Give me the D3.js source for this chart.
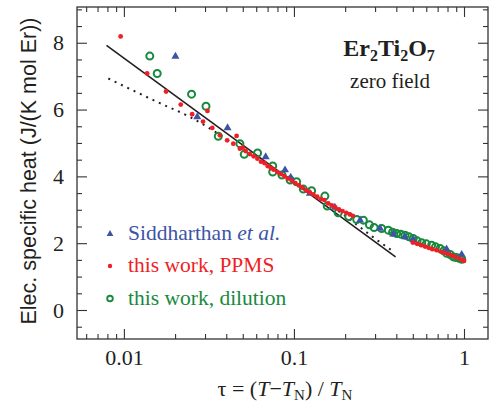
<!DOCTYPE html>
<html><head><meta charset="utf-8">
<script src="https://cdn.jsdelivr.net/npm/d3@7"></script>
<style>
body{margin:0;background:#fff;}
svg{display:block;}
</style></head>
<body>
<svg id="chart" width="490" height="405"></svg>
<script>
// ---- data ----
const blueTau = [0.0201, 0.027, 0.0407, 0.0682, 0.0886, 0.0957, 0.124, 0.174, 0.245, 0.321, 0.384, 0.45, 0.503, 0.79, 0.969];
const blueC   = [7.59, 5.78, 5.45, 4.58, 4.19, 3.97, 3.49, 3.07, 2.69, 2.44, 2.27, 2.19, 2.11, 1.82, 1.66];

const redTau = [0.00957, 0.0137, 0.0177, 0.0216, 0.0252, 0.0292, 0.031, 0.0331, 0.0367, 0.0405, 0.044, 0.046, 0.0481,
  0.050, 0.052, 0.055, 0.058, 0.061, 0.064, 0.067, 0.070, 0.073, 0.076, 0.080, 0.084, 0.088, 0.092, 0.097, 0.102,
  0.107, 0.112, 0.118, 0.124, 0.130, 0.137, 0.144, 0.151, 0.159, 0.167, 0.175, 0.184, 0.193, 0.203, 0.213, 0.222,
  0.50, 0.53, 0.56, 0.59, 0.62, 0.65, 0.69, 0.73, 0.77, 0.81, 0.85, 0.89, 0.94, 0.98, 1.00];
const redC = [8.19, 7.08, 6.54, 6.15, 5.86, 5.64, 5.96, 5.45, 5.23, 5.08, 4.98, 5.21, 4.83,
  4.86, 4.76, 4.67, 4.60, 4.53, 4.44, 4.40, 4.31, 4.25, 4.20, 4.13, 4.07, 4.00, 3.93, 3.87, 3.80,
  3.73, 3.66, 3.58, 3.52, 3.46, 3.39, 3.32, 3.29, 3.19, 3.13, 3.07, 3.01, 2.96, 2.91, 2.86, 2.82,
  2.02, 1.98, 1.94, 1.90, 1.86, 1.82, 1.79, 1.75, 1.71, 1.67, 1.63, 1.59, 1.54, 1.50, 1.47];

const greenTau = [0.0142, 0.0157, 0.025, 0.0304, 0.0359, 0.0481, 0.051, 0.0611, 0.075, 0.075, 0.085, 0.095, 0.1037,
  0.1135, 0.127, 0.152, 0.157, 0.182, 0.21, 0.234, 0.256, 0.278, 0.296, 0.328, 0.359, 0.38, 0.402, 0.425, 0.45,
  0.475, 0.503, 0.53, 0.564, 0.60, 0.645, 0.68, 0.723, 0.76, 0.791, 0.83, 0.865, 0.90, 0.938, 0.97];
const greenC = [7.60, 7.08, 6.46, 6.10, 5.20, 4.98, 4.66, 4.70, 4.31, 4.13, 4.04, 3.89, 3.84,
  3.62, 3.57, 3.41, 3.11, 2.91, 2.80, 2.71, 2.69, 2.55, 2.47, 2.44, 2.39, 2.33, 2.29, 2.27, 2.24,
  2.19, 2.14, 2.07, 2.01, 1.98, 1.94, 1.89, 1.84, 1.77, 1.70, 1.66, 1.59, 1.57, 1.55, 1.52];

const solidTau = [0.0079, 0.396];
const solidC   = [7.92, 1.59];

const dottedTau = [0.0081, 0.0163, 0.0244, 0.0321, 0.05, 0.08, 0.12, 0.205, 0.292, 0.382];
const dottedC   = [6.93, 6.19, 5.78, 5.43, 4.79, 4.16, 3.58, 2.78, 2.18, 1.76];

const xMajorTicks = [0.01, 0.1, 1];
const xTickLabels = ["0.01", "0.1", "1"];
const yMajorTicks = [0, 2, 4, 6, 8];
const yTickLabels = ["0", "2", "4", "6", "8"];

const legendLabels = ["Siddharthan", "this work, PPMS", "this work, dilution"];

// ---- layout ----
const BLUE = "#3d54a6", RED = "#ee1f26", GREEN = "#178a3e", INK = "#231f20";
const L = 77, R = 488, T = 7, B = 339;
const svg = d3.select("#chart");
const serif = "'Liberation Serif', 'Times New Roman', serif";

const x = d3.scaleLog().domain([0.0053, 1.384]).range([L, R]);
const y = d3.scaleLinear().domain([-0.868, 9.07]).range([B, T]);

const xMinor = [];
[0.001, 0.01, 0.1, 1].forEach(d => { for (let k = 2; k <= 9; k++) { const v = d * k; if (v > 0.0053 && v < 1.384) xMinor.push(v); } });
const yMinor = d3.range(-0.5, 9.01, 0.5).filter(v => !yMajorTicks.includes(v));

function styleAxis(g) {
  g.select(".domain").remove();
  g.selectAll(".tick line").attr("stroke", "#333").attr("stroke-width", 1.1);
  g.selectAll("text").attr("font-family", serif).attr("font-size", 22).attr("fill", INK);
}

// major + minor ticks, all inward
svg.append("g").attr("transform", `translate(0,${B})`)
  .call(d3.axisBottom(x).tickValues(xMajorTicks).tickSizeInner(-10).tickSizeOuter(0).tickPadding(10)
    .tickFormat((d, i) => xTickLabels[i])).call(styleAxis);
svg.append("g").attr("transform", `translate(0,${B})`)
  .call(d3.axisBottom(x).tickValues(xMinor).tickSizeInner(-5).tickSizeOuter(0).tickFormat("")).call(styleAxis);
svg.append("g").attr("transform", `translate(0,${T})`)
  .call(d3.axisTop(x).tickValues(xMajorTicks).tickSizeInner(-10).tickSizeOuter(0).tickFormat("")).call(styleAxis);
svg.append("g").attr("transform", `translate(0,${T})`)
  .call(d3.axisTop(x).tickValues(xMinor).tickSizeInner(-5).tickSizeOuter(0).tickFormat("")).call(styleAxis);

svg.append("g").attr("transform", `translate(${L},0)`)
  .call(d3.axisLeft(y).tickValues(yMajorTicks).tickSizeInner(-10).tickSizeOuter(0).tickPadding(13)
    .tickFormat((d, i) => yTickLabels[i])).call(styleAxis);
svg.append("g").attr("transform", `translate(${L},0)`)
  .call(d3.axisLeft(y).tickValues(yMinor).tickSizeInner(-5).tickSizeOuter(0).tickFormat("")).call(styleAxis);
svg.append("g").attr("transform", `translate(${R},0)`)
  .call(d3.axisRight(y).tickValues(yMajorTicks).tickSizeInner(-10).tickSizeOuter(0).tickFormat("")).call(styleAxis);
svg.append("g").attr("transform", `translate(${R},0)`)
  .call(d3.axisRight(y).tickValues(yMinor).tickSizeInner(-5).tickSizeOuter(0).tickFormat("")).call(styleAxis);

svg.append("rect").attr("x", L).attr("y", T).attr("width", R - L).attr("height", B - T)
  .attr("fill", "none").attr("stroke", "#333").attr("stroke-width", 1.3);

// lines
const line = d3.line().x(d => x(d[0])).y(d => y(d[1]));
svg.append("path").datum(solidTau.map((t, i) => [t, solidC[i]]))
  .attr("d", line).attr("fill", "none").attr("stroke", INK).attr("stroke-width", 1.6);
svg.append("path").datum(dottedTau.map((t, i) => [t, dottedC[i]]))
  .attr("d", line.curve(d3.curveMonotoneX)).attr("fill", "none").attr("stroke", INK)
  .attr("stroke-width", 2).attr("stroke-dasharray", "2,5");

// points
const gG = svg.append("g");
gG.selectAll("circle").data(greenTau.map((t, i) => [t, greenC[i]])).join("circle")
  .attr("cx", d => x(d[0])).attr("cy", d => y(d[1])).attr("r", 3.5)
  .attr("fill", "none").attr("stroke", GREEN).attr("stroke-width", 2);

const tri = d3.symbol().type(d3.symbolTriangle).size(28);
const gB = svg.append("g");
gB.selectAll("path").data(blueTau.map((t, i) => [t, blueC[i]])).join("path")
  .attr("d", tri).attr("transform", d => `translate(${x(d[0])},${y(d[1])})`).attr("fill", BLUE);

const gR = svg.append("g");
gR.selectAll("circle").data(redTau.map((t, i) => [t, redC[i]])).join("circle")
  .attr("cx", d => x(d[0])).attr("cy", d => y(d[1])).attr("r", 2.4).attr("fill", RED);

// legend
const lg = svg.append("g");
lg.append("path").attr("d", d3.symbol().type(d3.symbolTriangle).size(20)).attr("transform", "translate(110,234)").attr("fill", BLUE);
lg.append("circle").attr("cx", 110).attr("cy", 266).attr("r", 2.2).attr("fill", RED);
lg.append("circle").attr("cx", 110).attr("cy", 298.5).attr("r", 2.8).attr("fill", "none").attr("stroke", GREEN).attr("stroke-width", 1.9);
const LFS = 21.5;
const t1 = lg.append("text").attr("x", 128).attr("y", 240).attr("font-family", serif).attr("font-size", LFS).attr("fill", BLUE);
t1.append("tspan").text(legendLabels[0] + " ");
t1.append("tspan").attr("font-style", "italic").text("et al.");
lg.append("text").attr("x", 128).attr("y", 272).attr("font-family", serif).attr("font-size", LFS).attr("fill", RED).text(legendLabels[1]);
lg.append("text").attr("x", 128).attr("y", 305).attr("font-family", serif).attr("font-size", LFS).attr("fill", GREEN).text(legendLabels[2]);

// title
const tt = svg.append("text").attr("x", 389).attr("y", 56).attr("text-anchor", "middle")
  .attr("font-family", serif).attr("font-size", 24).attr("font-weight", "bold").attr("fill", INK);
tt.append("tspan").text("Er");
tt.append("tspan").attr("font-size", 16).attr("dy", 5).text("2");
tt.append("tspan").attr("dy", -5).text("Ti");
tt.append("tspan").attr("font-size", 16).attr("dy", 5).text("2");
tt.append("tspan").attr("dy", -5).text("O");
tt.append("tspan").attr("font-size", 16).attr("dy", 5).text("7");
svg.append("text").attr("x", 390).attr("y", 88).attr("text-anchor", "middle")
  .attr("font-family", serif).attr("font-size", 21).attr("fill", INK).text("zero field");

// x label
const xl = svg.append("text").attr("x", 285).attr("y", 396).attr("text-anchor", "middle")
  .attr("font-family", serif).attr("font-size", 22).attr("fill", INK);
xl.append("tspan").text("τ = (");
xl.append("tspan").attr("font-style", "italic").text("T");
xl.append("tspan").text("−");
xl.append("tspan").attr("font-style", "italic").text("T");
xl.append("tspan").attr("font-size", 15).attr("dy", 4).text("N");
xl.append("tspan").attr("dy", -4).text(") / ");
xl.append("tspan").attr("font-style", "italic").text("T");
xl.append("tspan").attr("font-size", 15).attr("dy", 4).text("N");

// y label
svg.append("text").attr("transform", "translate(36,171) rotate(-90)").attr("text-anchor", "middle")
  .attr("font-family", "'Liberation Sans', Arial, sans-serif").attr("font-size", 21.5).attr("fill", INK)
  .text("Elec. specific heat (J/(K mol Er))");
</script>
</body></html>
